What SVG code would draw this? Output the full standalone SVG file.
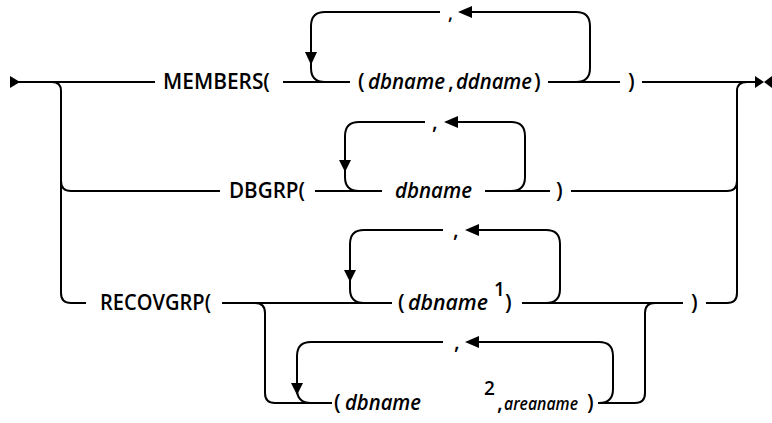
<svg xmlns="http://www.w3.org/2000/svg" width="772" height="423" viewBox="0 0 772 423">
<style>
.l{fill:none;stroke:#000;stroke-width:2}
.a{fill:#000;stroke:none}
.t{font-family:"Open Sans",Roboto,"Liberation Sans",sans-serif;font-size:21px;font-weight:600;fill:#000}
.i{font-style:italic}
.s{font-size:19px}
.c{font-size:18px}
</style>
<rect width="772" height="423" fill="#fff"/>
<g id="connectors">
<polygon class="a" points="10,76 20,82 10,88"/>
<path class="l" d="M18,82 H155"/>
<path class="l" d="M52,82 Q61,82 61,91 V293 Q61,303 71,303 H86"/>
<path class="l" d="M61,181 Q61,191 71,191 H220"/>
<path class="l" d="M283,82 H350"/>
<path class="l" d="M440,12 H325 Q311,12 311,26 V68 Q311,82 325,82"/>
<path class="l" d="M548,82 H620"/>
<path class="l" d="M576,82 Q590,82 590,68 V26 Q590,12 576,12 H466"/>
<polygon class="a" points="458,12 472,6 472,18"/>
<polygon class="a" points="311,65 305,52 317,52"/>
<path class="l" d="M642,82 H756"/>
<polygon class="a" points="755,76 764,82 755,88"/>
<polygon class="a" points="772,76 764,82 772,88"/>
<path class="l" d="M737,293 V91 Q737,82 747,82"/>
<path class="l" d="M315,191 H382"/>
<path class="l" d="M425,122 H359 Q345,122 345,136 V177 Q345,191 359,191"/>
<path class="l" d="M485,191 H550"/>
<path class="l" d="M511,191 Q525,191 525,177 V136 Q525,122 511,122 H452"/>
<polygon class="a" points="444,122 458,116 458,128"/>
<polygon class="a" points="345,172 339,160 351,160"/>
<path class="l" d="M571,191 H727 Q737,191 737,181"/>
<path class="l" d="M222,303 H392"/>
<path class="l" d="M443,230 H364 Q350,230 350,244 V289 Q350,303 364,303"/>
<path class="l" d="M522,303 H683"/>
<path class="l" d="M546,303 Q560,303 560,289 V244 Q560,230 546,230 H472"/>
<polygon class="a" points="465,230 479,224 479,236"/>
<polygon class="a" points="350,282 344,270 356,270"/>
<path class="l" d="M706,303 H727 Q737,303 737,293"/>
<path class="l" d="M255,303 Q265,303 265,313 V393 Q265,403 275,403 H332"/>
<path class="l" d="M443,342 H311 Q297,342 297,356 V389 Q297,403 311,403"/>
<path class="l" d="M598,403 H635 Q645,403 645,393 V313 Q645,303 655,303"/>
<path class="l" d="M599,403 Q613,403 613,389 V356 Q613,342 599,342 H472"/>
<polygon class="a" points="465,342 479,336 479,348"/>
<polygon class="a" points="297,395 291,383 303,383"/>
</g>
<g id="members">
<text class="t" x="163" y="89" textLength="107" lengthAdjust="spacingAndGlyphs">MEMBERS(</text>
<text class="t c" x="448" y="20">,</text>
<text class="t" x="358" y="89">(</text>
<text class="t i" x="368" y="89" textLength="77" lengthAdjust="spacingAndGlyphs">dbname</text>
<text class="t" x="448" y="89">,</text>
<text class="t i" x="456" y="89" textLength="76" lengthAdjust="spacingAndGlyphs">ddname</text>
<text class="t" x="534" y="89">)</text>
<text class="t" x="628" y="89">)</text>
</g>
<g id="dbgrp">
<text class="t" x="229" y="198" textLength="76" lengthAdjust="spacingAndGlyphs">DBGRP(</text>
<text class="t" x="432" y="129">,</text>
<text class="t i" x="395" y="198" textLength="77" lengthAdjust="spacingAndGlyphs">dbname</text>
<text class="t" x="556" y="198">)</text>
</g>
<g id="recovgrp">
<text class="t" x="100" y="310" textLength="111" lengthAdjust="spacingAndGlyphs">RECOVGRP(</text>
<text class="t" x="453" y="237">,</text>
<text class="t" x="398" y="310">(</text>
<text class="t i" x="408" y="310" textLength="80" lengthAdjust="spacingAndGlyphs">dbname</text>
<text class="t s" x="494" y="296">1</text>
<text class="t" x="505" y="310">)</text>
<text class="t" x="691" y="310">)</text>
<text class="t" x="454" y="349">,</text>
<text class="t" x="334" y="410">(</text>
<text class="t i" x="345" y="410" textLength="76" lengthAdjust="spacingAndGlyphs">dbname</text>
<text class="t s" x="484" y="395">2</text>
<text class="t" x="497" y="410">,</text>
<text class="t i" x="504" y="410" style="font-size:17.5px" textLength="74" lengthAdjust="spacingAndGlyphs">areaname</text>
<text class="t" x="587" y="410">)</text>
</g>
</svg>
